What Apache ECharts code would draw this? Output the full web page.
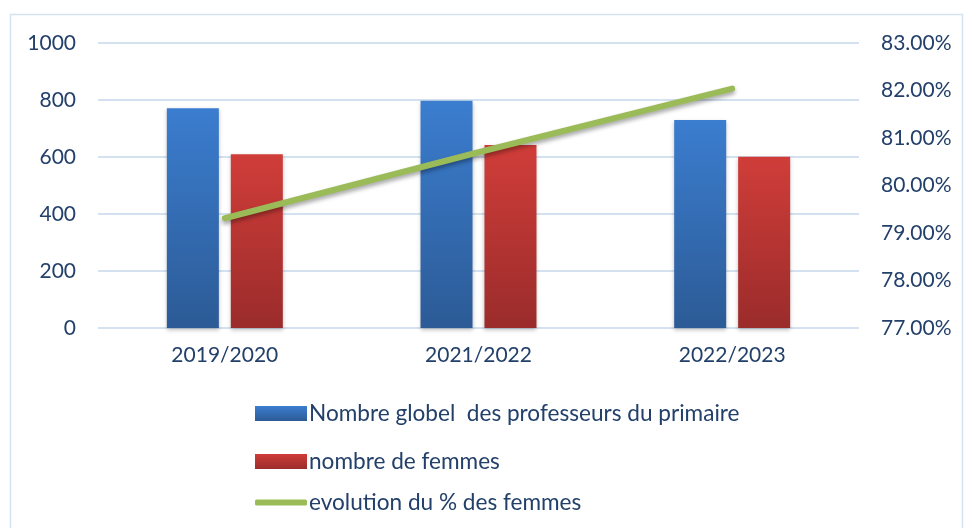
<!DOCTYPE html>
<html><head><meta charset="utf-8">
<script src="https://cdn.jsdelivr.net/npm/echarts@6/dist/echarts.min.js"></script>
<style>html,body{margin:0;padding:0;background:#fff}#c{width:965px;height:528px}</style>
</head><body><div id="c"></div>
<script>
const categories = ['2019/2020', '2021/2022', '2022/2023'];
const totalTeachers = [771, 797, 730];
const women = [610, 642, 601];
const womenPct = [79.31, 80.70, 82.04];
const leftTicks = [0, 1000, 200];
const rightTicks = [77, 83, 1];
const seriesNames = ['Nombre globel  des professeurs du primaire', 'nombre de femmes', 'evolution du % des femmes'];

const txt = '#23406A';
const font = 'Lato';
const chart = echarts.init(document.getElementById('c'), null, {renderer: 'canvas'});
const grad = (a, b) => new echarts.graphic.LinearGradient(0, 0, 0, 1, [{offset: 0, color: a}, {offset: 1, color: b}]);
const blue = grad('#3B7DCF', '#2C5B96');
const red = grad('#D03D39', '#9A2C2B');
const green = '#9BBB59';
const legendBase = {orient: 'vertical', left: 250, itemWidth: 52, itemHeight: 15,
  textStyle: {color: txt, fontFamily: font, fontSize: 22.6, padding: [0, 0, 0, -3]}, selectedMode: false};
chart.setOption({
  animation: false,
  textStyle: {fontFamily: font},
  graphic: [{type: 'polyline', shape: {points: [[10.5, 528], [10.5, 14.5], [962.5, 14.5], [962.5, 528]]},
    style: {stroke: '#D5E2F0', lineWidth: 1.5, fill: null}}],
  grid: {left: 98, right: 106, top: 43, bottom: 200},
  legend: [
    Object.assign({}, legendBase, {top: 397, data: [{name: seriesNames[0], icon: 'rect', itemStyle: {color: blue}}]}),
    Object.assign({}, legendBase, {top: 445, data: [{name: seriesNames[1], icon: 'rect', itemStyle: {color: red}}]}),
    Object.assign({}, legendBase, {top: 486, itemHeight: 6, data: [{name: seriesNames[2], icon: 'roundRect', itemStyle: {color: green}}]})
  ],
  xAxis: {type: 'category', data: categories, axisLine: {show: false}, axisTick: {show: false},
    axisLabel: {color: txt, fontSize: 21, fontFamily: font, margin: 17}},
  yAxis: [
    {type: 'value', min: leftTicks[0], max: leftTicks[1], interval: leftTicks[2], axisLine: {show: false}, axisTick: {show: false},
      axisLabel: {color: txt, fontSize: 21, fontFamily: font, margin: 22, formatter: v => String(v)},
      splitLine: {lineStyle: {color: '#D4E1F1', width: 2}}},
    {type: 'value', min: rightTicks[0], max: rightTicks[1], interval: rightTicks[2], position: 'right', axisLine: {show: false}, axisTick: {show: false},
      axisLabel: {color: txt, fontSize: 21, fontFamily: font, margin: 22, formatter: v => v.toFixed(2) + '%'},
      splitLine: {show: false}}
  ],
  series: [
    {name: seriesNames[0], type: 'bar', data: totalTeachers, barWidth: 52, barGap: '23%',
      itemStyle: {color: blue, shadowBlur: 4, shadowColor: 'rgba(0,0,0,0.25)', shadowOffsetY: 2}},
    {name: seriesNames[1], type: 'bar', data: women, barWidth: 52,
      itemStyle: {color: red, shadowBlur: 4, shadowColor: 'rgba(0,0,0,0.25)', shadowOffsetY: 2}},
    {name: seriesNames[2], type: 'line', yAxisIndex: 1, data: womenPct, symbol: 'none', z: 5,
      itemStyle: {color: green},
      lineStyle: {color: green, width: 6, cap: 'round', shadowBlur: 4, shadowColor: 'rgba(0,0,0,0.35)', shadowOffsetY: 3}}
  ]
});
</script></body></html>
